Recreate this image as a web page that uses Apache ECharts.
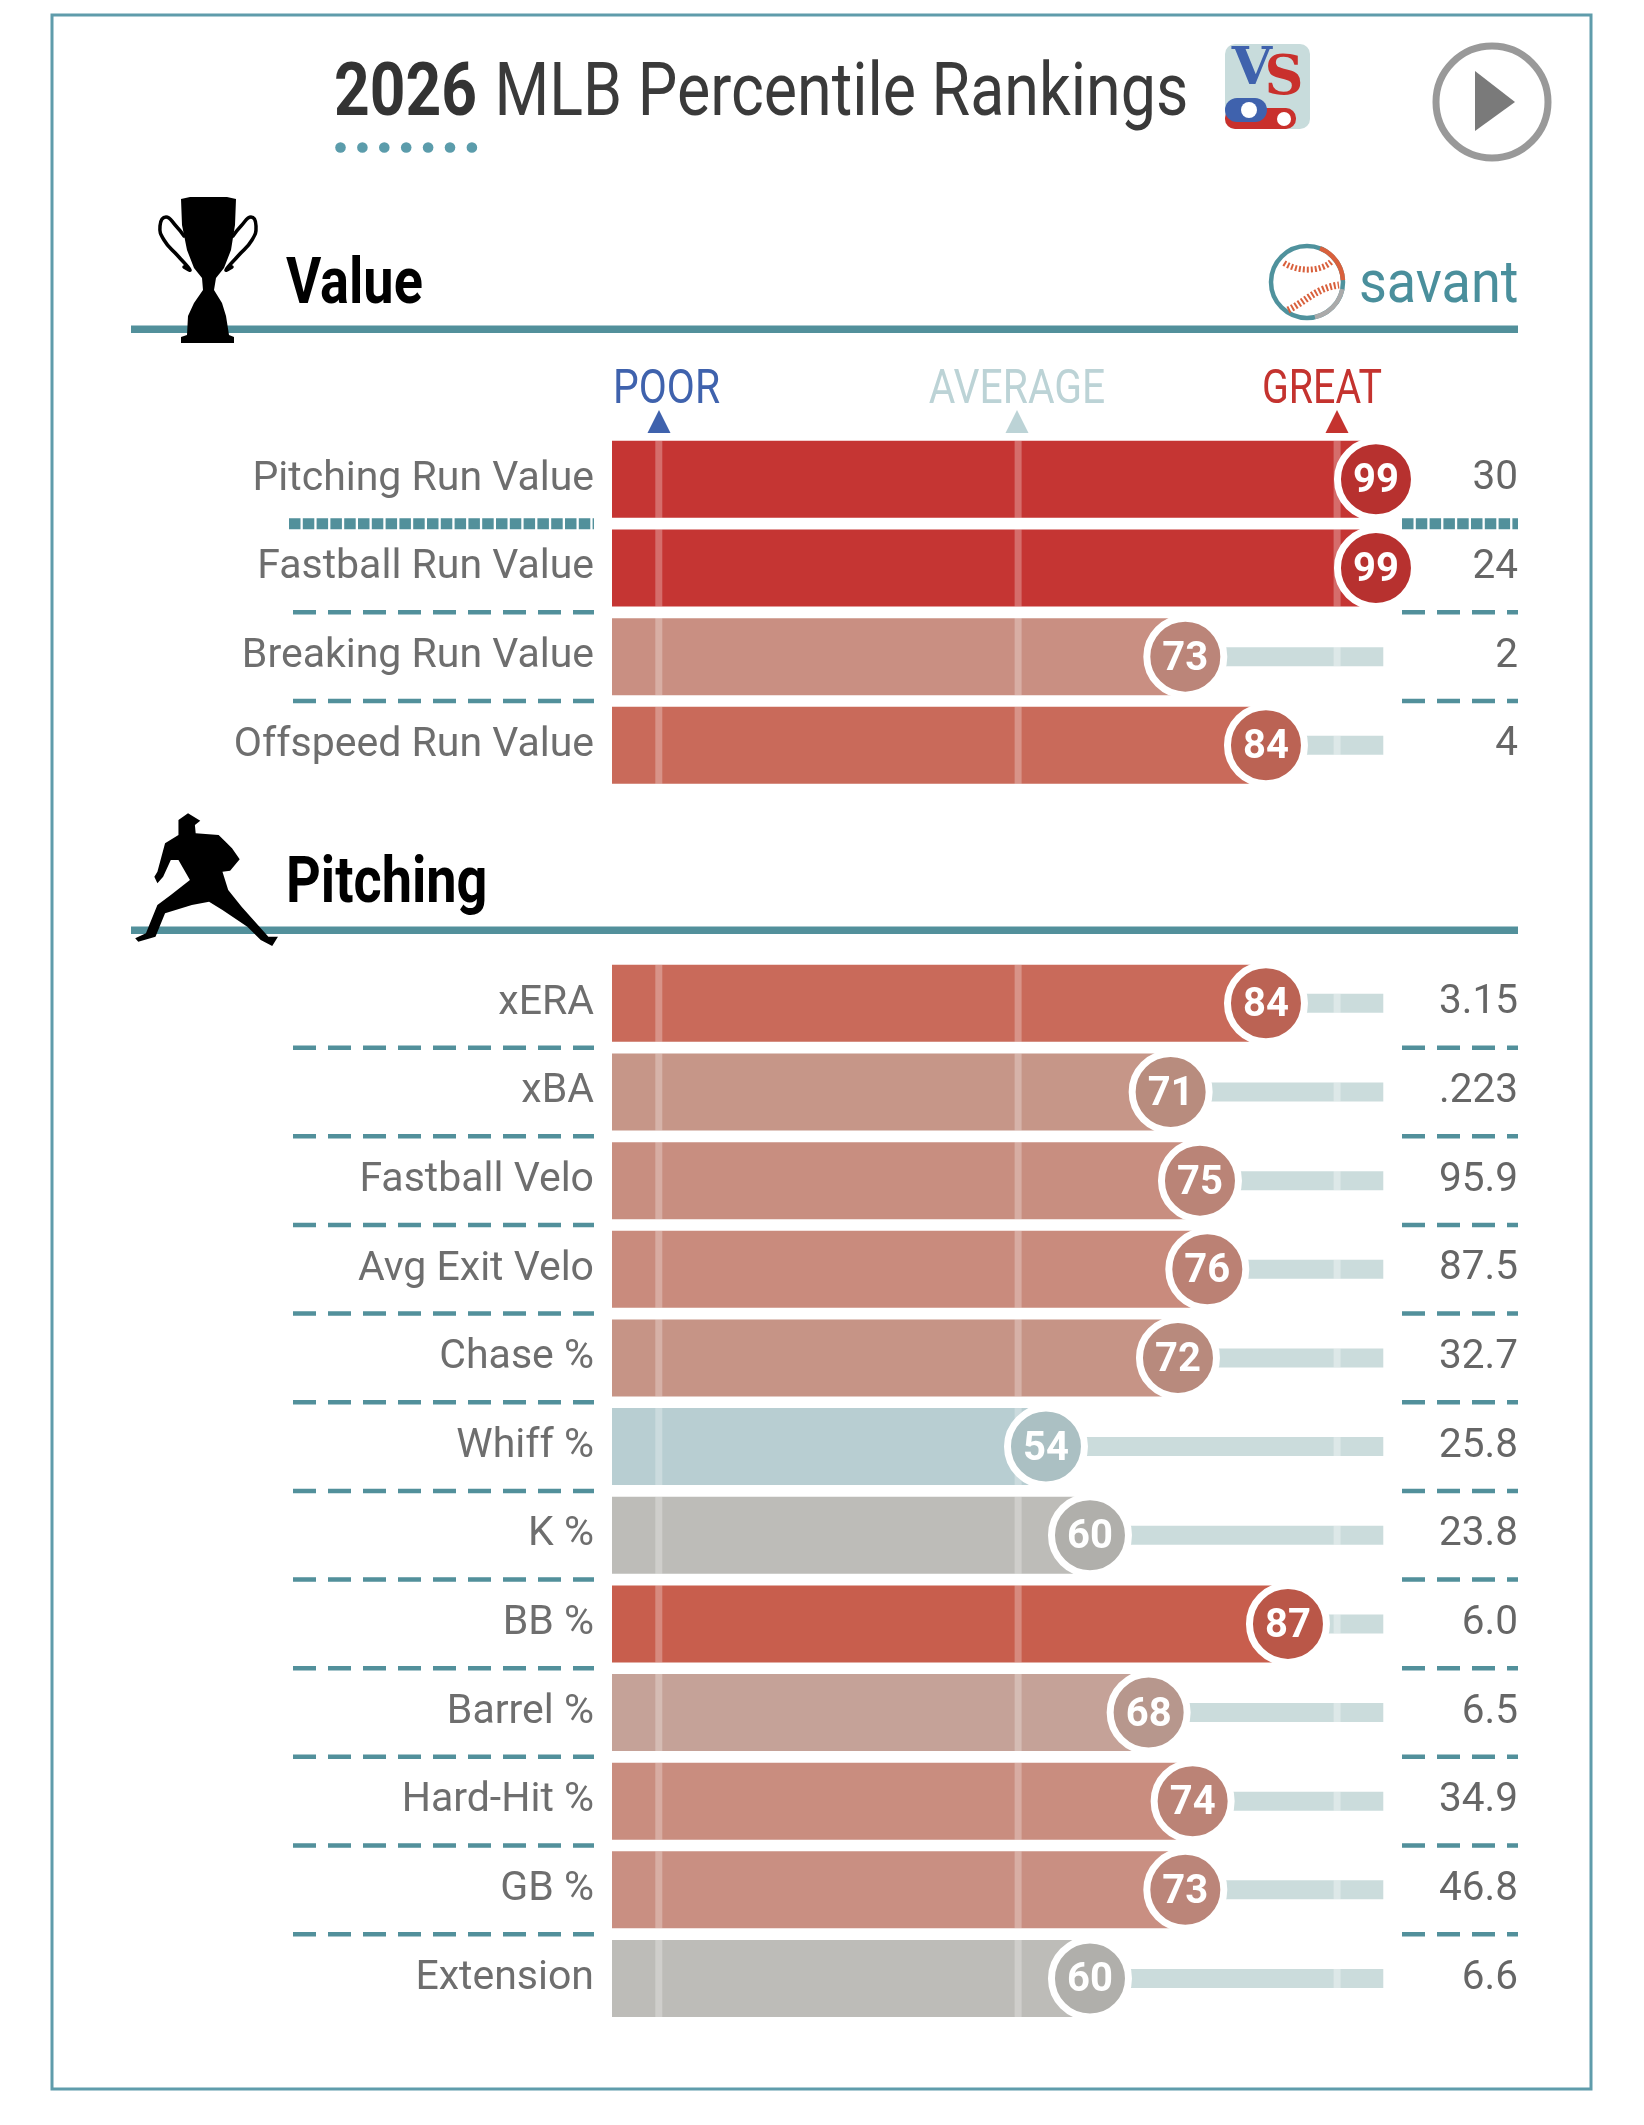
<!DOCTYPE html>
<html><head><meta charset="utf-8">
<style>html,body{margin:0;padding:0;background:#fff}#c{width:1644px;height:2125px}</style>
<script src="https://cdn.jsdelivr.net/npm/echarts@6/dist/echarts.min.js"></script>
</head><body><div id="c"></div>
<script>
const valueLabels = ['Pitching Run Value','Fastball Run Value','Breaking Run Value','Offspeed Run Value'];
const valuePct    = [99,99,73,84];
const valueStats  = ['30','24','2','4'];
const valueColors = ['#c53533','#c53533','#c98f82','#c96a5a'];

const pitchLabels = ['xERA','xBA','Fastball Velo','Avg Exit Velo','Chase %','Whiff %','K %','BB %','Barrel %','Hard-Hit %','GB %','Extension'];
const pitchPct    = [84,71,75,76,72,54,60,87,68,74,73,60];
const pitchStats  = ['3.15','.223','95.9','87.5','32.7','25.8','23.8','6.0','6.5','34.9','46.8','6.6'];
const pitchColors = ['#c96a5a','#c69688','#c88e80','#c98b7d','#c69486','#b8ced2','#bdbcb8','#c85e4d','#c5a298','#c98d7f','#c98f82','#bdbcb8'];

const markers = [1.2,50.2,93.7];
const AXIS_MIN = -5.182;
const FONT = 'Roboto';
const TEAL = '#52909b';

function darken(hex){
  const n=parseInt(hex.slice(1),16),f=.93;
  return `rgb(${Math.round((n>>16)*f)},${Math.round(((n>>8)&255)*f)},${Math.round((n&255)*f)})`;
}

function section(g, labels, pct, stats, colors, denseFirst){
  const n = labels.length;
  const axes = {
    x:{gridIndex:g,type:'value',min:AXIS_MIN,max:100,show:false},
    y:[{gridIndex:g,type:'category',inverse:true,data:labels,position:'left',
        axisLine:{show:false},axisTick:{show:false},splitLine:{show:false},
        axisLabel:{fontFamily:FONT,fontSize:41,color:'#6e6e6e',margin:18,interval:0}},
       {gridIndex:g,type:'category',inverse:true,data:stats,position:'right',
        axisLine:{show:false},axisTick:{show:false},splitLine:{show:false},
        axisLabel:{fontFamily:FONT,fontSize:40.5,color:'#666',margin:134.7,align:'right',interval:0}}]
  };
  return {axes,n,pct,colors,denseFirst};
}
const sections=[section(0,valueLabels,valuePct,valueStats,valueColors,true),
                section(1,pitchLabels,pitchPct,pitchStats,pitchColors,false)];

const series=[];
sections.forEach((s,g)=>{
  const xi=g, yi=g*2;
  const rows=s.pct.map((v,i)=>[v,i]);
  // tracks
  series.push({type:'custom',xAxisIndex:xi,yAxisIndex:yi,z:1,silent:true,clip:false,data:rows,
    renderItem(p,api){
      const a=api.coord([api.value(0),api.value(1)]),b=api.coord([100,api.value(1)]);
      return {type:'rect',shape:{x:a[0],y:a[1]-9.5,width:b[0]-a[0],height:19},style:{fill:'#cbdcdc'}};
    }});
  // bars (0 -> pct) and the lead-in left of zero
  const colored=s.pct.map((v,i)=>({value:v,itemStyle:{color:s.colors[i]}}));
  const lead=s.pct.map((v,i)=>({value:AXIS_MIN,itemStyle:{color:s.colors[i]}}));
  series.push({type:'bar',xAxisIndex:xi,yAxisIndex:yi,z:2,stack:'b'+g,barWidth:77,silent:true,data:colored});
  series.push({type:'bar',xAxisIndex:xi,yAxisIndex:yi,z:2,stack:'b'+g,barWidth:77,silent:true,data:lead});
  // reference ticks
  series.push({type:'custom',xAxisIndex:xi,yAxisIndex:yi,z:3,silent:true,clip:false,data:rows,
    renderItem(p,api){
      const v=api.value(0),i=api.value(1);
      return {type:'group',children:markers.map(m=>{
        const c=api.coord([m,i]),h=m<=v?77:19;
        return {type:'rect',shape:{x:c[0]-3.5,y:c[1]-h/2,width:7,height:h},
                style:{fill:'rgba(255,255,255,'+(m<=v?.28:.35)+')'}};
      })};
    }});
  // row separators
  series.push({type:'custom',xAxisIndex:xi,yAxisIndex:yi,z:1,silent:true,clip:false,
    data:rows.slice(0,-1),
    renderItem(p,api){
      const i=api.value(1),y=api.coord([0,i])[1]+api.size([0,1])[1]/2;
      const dense=s.denseFirst&&i===0;
      const st={stroke:TEAL,lineWidth:dense?11:4.5,lineDash:dense?[11.5,2.3]:[23,12]};
      return {type:'group',children:[
        {type:'line',shape:{x1:dense?289:293,y1:y,x2:594,y2:y},style:st},
        {type:'line',shape:{x1:1402,y1:y,x2:1518,y2:y},style:st}]};
    }});
  // percentile circles
  series.push({type:'scatter',xAxisIndex:xi,yAxisIndex:yi,z:5,silent:true,clip:false,symbolSize:77,
    data:s.pct.map((v,i)=>({value:[v,i],itemStyle:{color:darken(s.colors[i]),borderColor:'#fff',borderWidth:7,opacity:1}})),
    label:{show:true,position:'inside',offset:[0,3],formatter:q=>String(q.value[0]),color:'#fff',
           fontFamily:FONT,fontWeight:700,fontSize:40}});
});

function T(text,x,y,size,color,sx,weight,align){
  return {type:'text',x,y,scaleX:sx,z:10,style:{text,fontFamily:FONT,fontSize:size,fontWeight:weight||400,fill:color,
    align:align||'left',verticalAlign:'middle'}};
}
function tri(x,color){return {type:'polygon',z:10,shape:{points:[[x,410],[x+11.5,433],[x-11.5,433]]},style:{fill:color}};}
const dots=[0,1,2,3,4,5,6].map(i=>({type:'circle',z:10,shape:{cx:340.5+i*21.9,cy:147.5,r:5.3},style:{fill:'#5b9cab'}}));

const trophy=[[181,199],[190,197],[227,197],[236,199],[235,225],[231,250],[224,268],[216,278],[214,290],[222,303],[226,316],[229,335],[234,337],[234,343],[181,343],[181,337],[187,335],[188,316],[194,303],[203,290],[202,278],[194,268],[187,250],[182,225]];
const H={stroke:'#000',lineWidth:3.5,lineCap:'round',fill:null};
const pitcherRaw=[[230,100],[262,122],[248,135],[250,160],[310,165],[328,185],[345,205],[365,238],[340,272],[320,275],[335,330],[370,380],[440,470],[465,470],[450,498],[420,480],[385,440],[320,390],[285,365],[240,375],[170,400],[145,470],[100,485],[92,475],[120,460],[150,375],[185,345],[235,300],[205,240],[185,240],[165,290],[150,310],[142,290],[150,275],[170,190],[205,165],[205,120]];
const pitcher=pitcherRaw.map(p=>[100+p[0]*.3827,780+p[1]/3]);

const graphic=[
  {type:'rect',z:0,shape:{x:52,y:15,width:1539,height:2074},style:{fill:null,stroke:'#5f9cab',lineWidth:3}},
  T('2026',334,96,74,'#333',.842,700),
  T('MLB Percentile Rankings',494.5,96,74,'#3a3a3a',.848,400),
  ...dots,
  // VS logo
  {type:'rect',z:10,shape:{x:1225,y:44,width:85,height:85,r:10},style:{fill:'#c8dcdc'}},
  {type:'text',z:11,x:1252,y:70,style:{text:'V',fontFamily:'DejaVu Serif',fontWeight:700,fontSize:52,fill:'#3f62ad',align:'center',verticalAlign:'middle'}},
  {type:'text',z:12,x:1284,y:80,style:{text:'S',fontFamily:'DejaVu Serif',fontWeight:700,fontSize:54,fill:'#c9302c',align:'center',verticalAlign:'middle'}},
  {type:'rect',z:11,shape:{x:1225,y:108,width:71,height:21,r:10},style:{fill:'#c9302c'}},
  {type:'rect',z:12,shape:{x:1225,y:98,width:42,height:24,r:12},style:{fill:'#3f62ad'}},
  {type:'circle',z:13,shape:{cx:1249,cy:110,r:8},style:{fill:'#fff'}},
  {type:'circle',z:13,shape:{cx:1284,cy:119,r:7},style:{fill:'#fff'}},
  // play button
  {type:'circle',z:10,shape:{cx:1492,cy:102,r:56},style:{fill:null,stroke:'#999',lineWidth:7}},
  {type:'polygon',z:10,shape:{points:[[1475,71],[1515,102],[1475,131]]},style:{fill:'#7a7a7a'}},
  // section rules
  {type:'rect',z:1,shape:{x:131,y:325.5,width:1387,height:7.5},style:{fill:TEAL}},
  {type:'rect',z:1,shape:{x:131,y:926.5,width:1387,height:7.5},style:{fill:TEAL}},
  // trophy
  {type:'polygon',z:10,shape:{points:trophy},style:{fill:'#000'}},
  {type:'polyline',z:10,shape:{smooth:.5,points:[[184,236],[176,226],[166,217],[160,226],[164,240],[178,256],[190,270],[184,267]]},style:H},
  {type:'polyline',z:10,shape:{smooth:.5,points:[[233,236],[241,226],[251,217],[256,226],[252,240],[238,256],[226,270],[232,267]]},style:H},
  // pitcher
  {type:'polygon',z:10,shape:{points:pitcher},style:{fill:'#000'}},
  T('Value',286,287,64,'#000',.845,700),
  T('Pitching',286,886,64,'#000',.845,700),
  // savant logo
  {type:'circle',z:10,shape:{cx:1307,cy:282,r:36},style:{fill:null,stroke:'#4f929d',lineWidth:4.5}},
  {type:'arc',z:11,shape:{cx:1307,cy:282,r:36,startAngle:-1.2,endAngle:-.05,clockwise:true},style:{stroke:'#d9603c',lineWidth:4.5,fill:null}},
  {type:'arc',z:11,shape:{cx:1307,cy:282,r:36,startAngle:.2,endAngle:1.35,clockwise:true},style:{stroke:'#aaa',lineWidth:4.5,fill:null}},
  {type:'bezierCurve',z:11,shape:{x1:1284,y1:263,cpx1:1298,cpy1:272,x2:1331,y2:262,cpx2:1320,cpy2:272},style:{stroke:'#d9603c',lineWidth:6,lineDash:[2,2],fill:null}},
  {type:'bezierCurve',z:11,shape:{x1:1288,y1:310,cpx1:1305,cpy1:302,x2:1339,y2:285,cpx2:1316,cpy2:288},style:{stroke:'#d9603c',lineWidth:7,lineDash:[2,2],fill:null}},
  T('savant',1359,287,60,'#4a8f9c',.9,400),
  // scale headers
  T('POOR',613,391,48,'#3f62ad',.85),
  T('AVERAGE',1017,391,48,'#bcd3d6',.85,400,'center'),
  T('GREAT',1322,391,48,'#c4332f',.82,400,'center'),
  tri(659,'#3f62ad'),tri(1017,'#bcd3d6'),tri(1337,'#c4332f')
];

const chart=echarts.init(document.getElementById('c'),null,{renderer:'canvas'});
chart.setOption({
  animation:false,backgroundColor:'#fff',
  grid:[{left:612,width:771.3,top:435,height:354.6},{left:612,width:771.3,top:959,height:1063.8}],
  xAxis:sections.map(s=>s.axes.x),
  yAxis:sections.flatMap(s=>s.axes.y),
  series,graphic:{elements:graphic}
});
</script></body></html>
